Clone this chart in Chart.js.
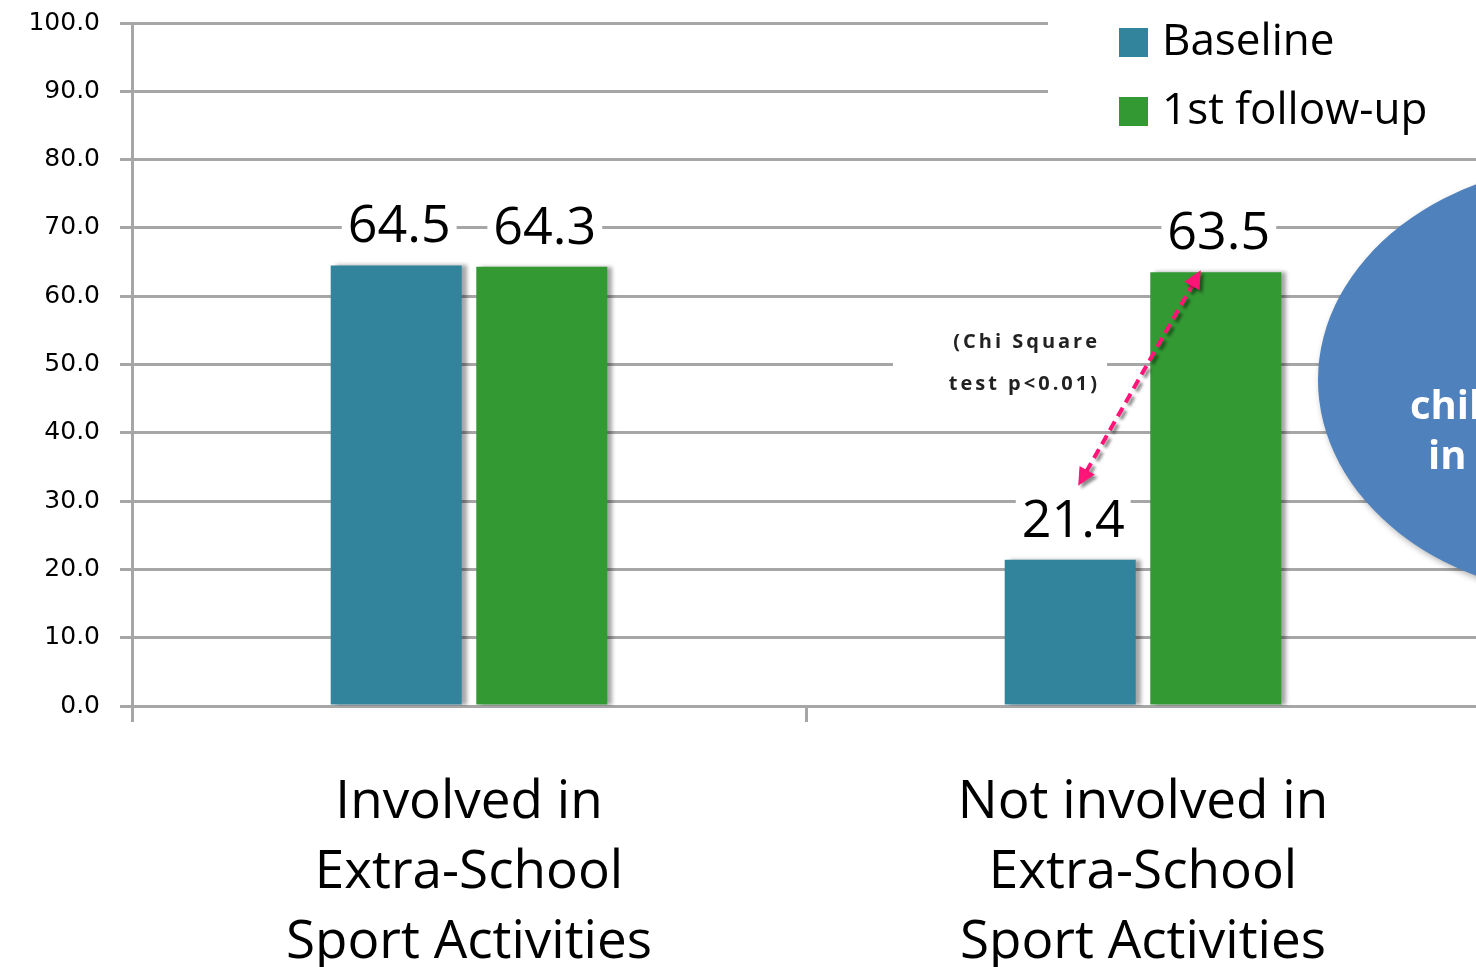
<!DOCTYPE html>
<html>
<head>
<meta charset="utf-8">
<script src="https://cdn.jsdelivr.net/npm/chart.js@4.4.0/dist/chart.umd.min.js"></script>
<style>
html, body { margin: 0; padding: 0; background: #fff; overflow: hidden; }
#wrap { width: 1480px; height: 967px; }
</style>
</head>
<body>
<div id="wrap"><canvas id="chartSport" width="1480" height="967"></canvas></div>
<script>
const categories = [
    ["Involved in", "Extra-School", "Sport Activities"],
    ["Not involved in", "Extra-School", "Sport Activities"],
];
const baseline = [64.5, 21.4];
const followUp = [64.3, 63.5];
const seriesNames = ["Baseline", "1st follow-up"];
const seriesColors = ["#31849b", "#339933"];
const yTickLabels = ["0.0", "10.0", "20.0", "30.0", "40.0", "50.0", "60.0", "70.0", "80.0", "90.0", "100.0"];
const testNote = ["(Chi Square", "test p<0.01)"];
const bubbleText = ["children", "in"];

const GRID = "#a6a6a6";

// soft shadow on the right of each bar
const barShadow = {
    id: "barShadow",
    beforeDatasetsDraw(chart) {
        const ctx = chart.ctx;
        ctx.save();
        ctx.shadowColor = "rgba(0,0,0,0.35)";
        ctx.shadowOffsetX = 5;
        ctx.shadowOffsetY = 0;
        ctx.shadowBlur = 4;
    },
    afterDatasetsDraw(chart) {
        chart.ctx.restore();
    },
};

// value printed above each bar on a white patch
const valueLabels = {
    id: "valueLabels",
    afterDatasetsDraw(chart) {
        const ctx = chart.ctx;
        ctx.save();
        ctx.font = "52px 'Open Sans'";
        ctx.textAlign = "center";
        ctx.textBaseline = "middle";
        chart.data.datasets.forEach((ds, i) => {
            chart.getDatasetMeta(i).data.forEach((bar, j) => {
                const txt = ds.data[j].toFixed(1);
                const cx = bar.x + 3;
                const cy = bar.y - 38;
                const w = ctx.measureText(txt).width + 12;
                ctx.fillStyle = "#fff";
                ctx.fillRect(cx - w / 2, cy - 27, w, 54);
                ctx.fillStyle = "#000";
                ctx.fillText(txt, cx, cy);
            });
        });
        ctx.restore();
    },
};

function arrowHead(ctx, x, y, ang) {
    const len = 20, half = 0.45;
    ctx.beginPath();
    ctx.moveTo(x, y);
    ctx.lineTo(x - len * Math.cos(ang - half), y - len * Math.sin(ang - half));
    ctx.lineTo(x - len * Math.cos(ang + half), y - len * Math.sin(ang + half));
    ctx.closePath();
    ctx.fill();
}

// chi square note with dashed double arrow between the two bars
const testArrow = {
    id: "testArrow",
    afterDatasetsDraw(chart) {
        const ctx = chart.ctx;
        const low = chart.getDatasetMeta(0).data[1];
        const high = chart.getDatasetMeta(1).data[1];
        ctx.save();
        ctx.fillStyle = "#fff";
        ctx.fillRect(893, 318, 214, 88);
        ctx.font = "bold 20px 'Open Sans'";
        ctx.letterSpacing = "3px";
        ctx.fillStyle = "#222";
        ctx.textAlign = "right";
        ctx.textBaseline = "middle";
        ctx.fillText(testNote[0], 1100, 342);
        ctx.fillText(testNote[1], 1100, 384);
        ctx.letterSpacing = "0px";

        const x1 = high.x - 15, y1 = high.y - 2;
        const x2 = low.x + 8, y2 = low.y - 74;
        const ang = Math.atan2(y1 - y2, x1 - x2);
        ctx.shadowColor = "rgba(0,0,0,0.45)";
        ctx.shadowOffsetX = 3;
        ctx.shadowOffsetY = 3;
        ctx.shadowBlur = 3;
        ctx.strokeStyle = "#ff1478";
        ctx.fillStyle = "#ff1478";
        ctx.lineWidth = 4;
        ctx.setLineDash([10, 6]);
        ctx.beginPath();
        ctx.moveTo(x1 - 14 * Math.cos(ang), y1 - 14 * Math.sin(ang));
        ctx.lineTo(x2 + 14 * Math.cos(ang), y2 + 14 * Math.sin(ang));
        ctx.stroke();
        ctx.setLineDash([]);
        arrowHead(ctx, x1, y1, ang);
        arrowHead(ctx, x2, y2, ang + Math.PI);
        ctx.restore();
    },
};

// blue callout bubble on the right edge
const bubble = {
    id: "bubble",
    afterDatasetsDraw(chart) {
        const ctx = chart.ctx;
        ctx.save();
        ctx.shadowColor = "rgba(0,0,0,0.3)";
        ctx.shadowOffsetX = 2;
        ctx.shadowOffsetY = 3;
        ctx.shadowBlur = 6;
        ctx.fillStyle = "#4f81bd";
        ctx.beginPath();
        ctx.ellipse(1600, 380, 282, 218, 0, 0, Math.PI * 2);
        ctx.fill();
        ctx.shadowColor = "transparent";
        ctx.fillStyle = "#fff";
        ctx.font = "bold 40px 'Open Sans'";
        ctx.textBaseline = "middle";
        ctx.fillText(bubbleText[0], 1410, 408);
        ctx.fillText(bubbleText[1], 1428, 458);
        ctx.restore();
    },
};

// legend in the top right corner over a white patch
const cornerLegend = {
    id: "cornerLegend",
    afterDatasetsDraw(chart) {
        const ctx = chart.ctx;
        ctx.save();
        ctx.fillStyle = "#fff";
        ctx.fillRect(1048, 0, 432, 132);
        ctx.font = "44px 'Open Sans'";
        ctx.textBaseline = "middle";
        chart.data.datasets.forEach((ds, i) => {
            const y = 42 + i * 69;
            ctx.fillStyle = ds.backgroundColor;
            ctx.fillRect(1119, y - 14, 29, 29);
            ctx.fillStyle = "#000";
            ctx.fillText(ds.label, 1162, y);
        });
        ctx.restore();
    },
};

const config = {
    type: "bar",
    data: {
        labels: categories,
        datasets: [
            {
                label: seriesNames[0],
                data: baseline,
                backgroundColor: seriesColors[0],
            },
            {
                label: seriesNames[1],
                data: followUp,
                backgroundColor: seriesColors[1],
            },
        ],
    },
    options: {
        responsive: false,
        animation: false,
        devicePixelRatio: 1,
        categoryPercentage: 0.432,
        barPercentage: 0.9,
        layout: {
            padding: { top: 23, left: 0, right: 0, bottom: 0 },
        },
        plugins: {
            legend: { display: false },
            tooltip: { enabled: false },
        },
        scales: {
            x: {
                afterFit: (s) => {
                    s.height = 261;
                    s.paddingLeft = 0;
                    s.paddingRight = 0;
                },
                border: { color: GRID, width: 3 },
                grid: {
                    offset: true,
                    drawOnChartArea: false,
                    tickLength: 16,
                    color: GRID,
                    lineWidth: 3,
                },
                ticks: {
                    color: "#000",
                    padding: 46,
                    font: { family: "Open Sans", size: 53, lineHeight: 1.32 },
                },
            },
            y: {
                min: 0,
                max: 100,
                afterFit: (s) => {
                    s.width = 132;
                    s.paddingTop = 0;
                    s.paddingBottom = 0;
                },
                border: { color: GRID, width: 3 },
                grid: {
                    color: GRID,
                    lineWidth: 3,
                    tickLength: 12,
                },
                ticks: {
                    stepSize: 10,
                    padding: 20,
                    color: "#000",
                    font: { family: "DejaVu Sans", size: 25 },
                    callback: (v, i) => yTickLabels[i],
                },
            },
        },
    },
    plugins: [barShadow, valueLabels, testArrow, bubble, cornerLegend],
};

const chartSport = document.getElementById("chartSport");
if (chartSport) {
    new Chart(chartSport, config);
}
</script>
</body>
</html>
